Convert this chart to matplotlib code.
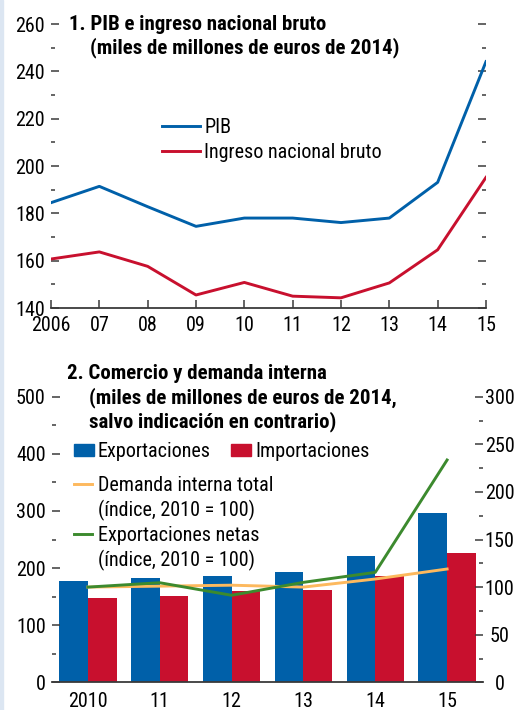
import matplotlib
matplotlib.use('Agg')
import matplotlib.pyplot as plt
import numpy as np
from matplotlib.lines import Line2D
from matplotlib.patches import Patch, Rectangle
from matplotlib.ticker import MultipleLocator

plt.rcParams['font.family'] = ['Roboto Condensed', 'IBM Plex Sans Condensed', 'DejaVu Sans']

BLUE = '#0060A9'
RED = '#C8102E'
ORANGE = '#FDB95E'
GREEN = '#3C8A2E'
AXIS = '#3A3A3A'

# panel 1: GDP and gross national income, bn 2014 euros
years = [2006, 2007, 2008, 2009, 2010, 2011, 2012, 2013, 2014, 2015]
year_labels = ['2006', '07', '08', '09', '10', '11', '12', '13', '14', '15']
pib = [184.5, 191.4, 182.8, 174.5, 178.0, 178.0, 176.1, 178.0, 193.1, 244.1]
inb = [160.7, 163.7, 157.6, 145.5, 150.8, 145.0, 144.3, 150.6, 164.6, 195.2]

# panel 2: trade and domestic demand
trade_labels = ['2010', '11', '12', '13', '14', '15']
exportaciones = [177, 182.6, 186, 193, 221, 296.4]
importaciones = [147.6, 151, 160, 161.6, 185.6, 227]
demanda_interna = [100, 101, 102, 100, 108.5, 119]
export_netas = [100, 104.6, 91.4, 105, 115.5, 233.5]

FS = 14.5
TFS = 15

fig = plt.figure(figsize=(5.18, 7.1), dpi=100)
fig.patches.append(Rectangle((0, 0), 2.5 / 518, 1, transform=fig.transFigure,
                             color='#DCE6F2', zorder=0))


def style_y(ax, major, minor):
    ax.yaxis.set_major_locator(MultipleLocator(major))
    ax.yaxis.set_minor_locator(MultipleLocator(minor))
    ax.tick_params(axis='y', which='major', direction='in', length=6,
                   width=1.1, color=AXIS, labelsize=FS, pad=4.5)
    ax.tick_params(axis='y', which='minor', direction='in', length=3,
                   width=1.1, color=AXIS)


# ---- top panel ----
ax1 = fig.add_axes([51 / 518, 1 - 308 / 710, (486 - 51) / 518, (308 - 24) / 710])
ax1.plot(years, pib, color=BLUE, lw=2.1, label='PIB')
ax1.plot(years, inb, color=RED, lw=2.1, label='Ingreso nacional bruto')
ax1.set_xlim(2006, 2015)
ax1.set_ylim(140, 260)
ax1.set_xticks(years)
ax1.set_xticklabels(year_labels)
ax1.tick_params(axis='x', direction='in', length=6, width=1.1, color=AXIS,
                labelsize=FS, pad=6)
style_y(ax1, 20, 10)
ax1.tick_params(axis='y', which='both', right=True)
for s in ['top', 'left', 'right']:
    ax1.spines[s].set_visible(False)
ax1.spines['bottom'].set_color(AXIS)
ax1.spines['bottom'].set_linewidth(1.3)
ax1.patch.set_alpha(0)

ax1.text(0.042, 1.0, '1. PIB e ingreso nacional bruto', transform=ax1.transAxes,
         fontsize=TFS, fontweight='bold', va='center', ha='left')
ax1.text(0.09, 0.918, '(miles de millones de euros de 2014)', transform=ax1.transAxes,
         fontsize=TFS, fontweight='bold', va='center', ha='left')
ax1.legend(loc='upper left', bbox_to_anchor=(0.255, 0.67), frameon=False,
           fontsize=FS, handlelength=1.9, handletextpad=0.2, labelspacing=0.3,
           borderaxespad=0, borderpad=0)

# ---- bottom panel ----
ax2 = fig.add_axes([52 / 518, 1 - 682.3 / 710, (483 - 52) / 518, (682.3 - 396.7) / 710])
x = np.arange(len(trade_labels))
w = 0.4
ax2.bar(x - w / 2, exportaciones, w, color=BLUE, label='Exportaciones')
ax2.bar(x + w / 2, importaciones, w, color=RED, label='Importaciones')
ax2.set_xlim(-0.5, 5.5)
ax2.set_ylim(0, 500)
ax2.set_xticks(x)
ax2.set_xticklabels(trade_labels)
ax2.tick_params(axis='x', length=0, labelsize=FS, pad=7)
style_y(ax2, 100, 50)
for s in ['top', 'left', 'right']:
    ax2.spines[s].set_visible(False)
ax2.spines['bottom'].set_color(AXIS)
ax2.spines['bottom'].set_linewidth(1.3)

ax3 = ax2.twinx()
ax3.plot(x, demanda_interna, color=ORANGE, lw=2.1)
ax3.plot(x, export_netas, color=GREEN, lw=2.1)
ax3.set_ylim(0, 300)
style_y(ax3, 50, 25)
ax3.tick_params(axis='y', which='major', pad=12)
for lab in ax3.get_yticklabels():
    lab.set_horizontalalignment('center')
for s in ['top', 'left', 'right', 'bottom']:
    ax3.spines[s].set_visible(False)

ax2.text(0.035, 1.08, '2. Comercio y demanda interna', transform=ax2.transAxes,
         fontsize=TFS, fontweight='bold', va='center', ha='left')
ax2.text(0.085, 0.995, '(miles de millones de euros de 2014,', transform=ax2.transAxes,
         fontsize=TFS, fontweight='bold', va='center', ha='left')
ax2.text(0.085, 0.913, 'salvo indicación en contrario)', transform=ax2.transAxes,
         fontsize=TFS, fontweight='bold', va='center', ha='left')

bar_handles = [Patch(color=BLUE), Patch(color=RED)]
leg1 = ax3.legend(bar_handles, ['Exportaciones', 'Importaciones'], ncol=2,
                  loc='upper left', bbox_to_anchor=(0.05, 0.84), frameon=False,
                  fontsize=FS, handlelength=1.0, handleheight=0.55,
                  handletextpad=0.2, columnspacing=1.0,
                  borderaxespad=0, borderpad=0)
ax3.add_artist(leg1)

blank = Line2D([], [], color='none')
line_handles = [Line2D([], [], color=ORANGE, lw=2.1), blank,
                Line2D([], [], color=GREEN, lw=2.1), blank]
line_labels = ['Demanda interna total', '(índice, 2010 = 100)',
               'Exportaciones netas', '(índice, 2010 = 100)']
ax3.legend(line_handles, line_labels, loc='upper left',
           bbox_to_anchor=(0.05, 0.722), frameon=False, fontsize=FS,
           handlelength=0.9, handletextpad=0.3, labelspacing=0.24,
           borderaxespad=0, borderpad=0)

fig.savefig('out.png', dpi=100)
